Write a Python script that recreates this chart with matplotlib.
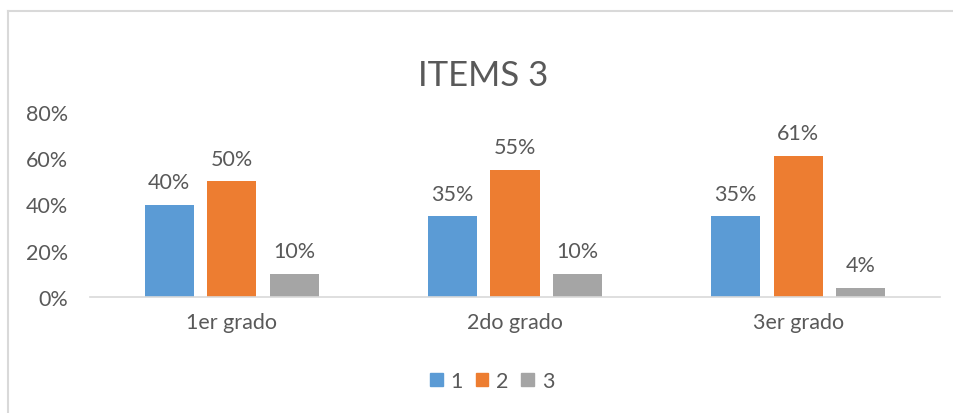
import matplotlib.pyplot as plt
import numpy as np
from matplotlib.lines import Line2D
from matplotlib.patches import Patch

plt.rcParams['font.family'] = ['Lato', 'DejaVu Sans']

grados = ['1er grado', '2do grado', '3er grado']
series = ['1', '2', '3']
s1 = [0.40, 0.35, 0.35]
s2 = [0.50, 0.55, 0.61]
s3 = [0.10, 0.10, 0.04]
colores = ['#5b9bd5', '#ed7d31', '#a5a5a5']
txt = '#595959'

fig = plt.figure(figsize=(9.54, 4.14), dpi=100)
ax = fig.add_axes([90/954, 116/414, 850/954, 185/414])

x = np.arange(len(grados))
w = 0.173
off = 0.221
for i, (vals, c, nombre) in enumerate(zip([s1, s2, s3], colores, series)):
    bars = ax.bar(x + (i - 1) * off, vals, w, color=c, label=nombre)
    for b, v in zip(bars, vals):
        ax.annotate(f'{v*100:.0f}%', (b.get_x() + b.get_width()/2, v),
                    xytext=(0, 9), textcoords='offset points',
                    ha='center', va='bottom', fontsize=15.5, color=txt)

ax.set_xlim(-0.5, 2.5)
ax.set_ylim(0, 0.8)
ax.set_yticks([0, 0.2, 0.4, 0.6, 0.8])
ax.set_yticklabels(['0%', '20%', '40%', '60%', '80%'])
ax.set_xticks(x)
ax.set_xticklabels(grados)
ax.tick_params(axis='both', length=0, labelsize=15.5, colors=txt)
ax.tick_params(axis='y', pad=16)
ax.tick_params(axis='x', pad=11)
for s in ['top', 'right', 'left']:
    ax.spines[s].set_visible(False)
ax.spines['bottom'].set_color('#d9d9d9')
ax.spines['bottom'].set_linewidth(1.2)

fig.text(483/954, 1 - 76/414, 'ITEMS 3', ha='center', va='center',
         fontsize=25, color=txt)

handles = [Patch(color=c) for c in colores]
fig.legend(handles, series, loc='center', bbox_to_anchor=(492/954, 1 - 382/414),
           ncol=3, frameon=False, fontsize=15.5, handlelength=0.6,
           handleheight=0.6, handletextpad=0.35, columnspacing=0.6,
           labelcolor=txt)

# chart border
fig.add_artist(Line2D([8/954, 8/954], [0, 1 - 12/414], color='#d9d9d9', lw=1.5,
                      transform=fig.transFigure))
fig.add_artist(Line2D([8/954, 1], [1 - 12/414, 1 - 12/414], color='#d9d9d9', lw=1.5,
                      transform=fig.transFigure))

fig.savefig('out.png', dpi=100)
